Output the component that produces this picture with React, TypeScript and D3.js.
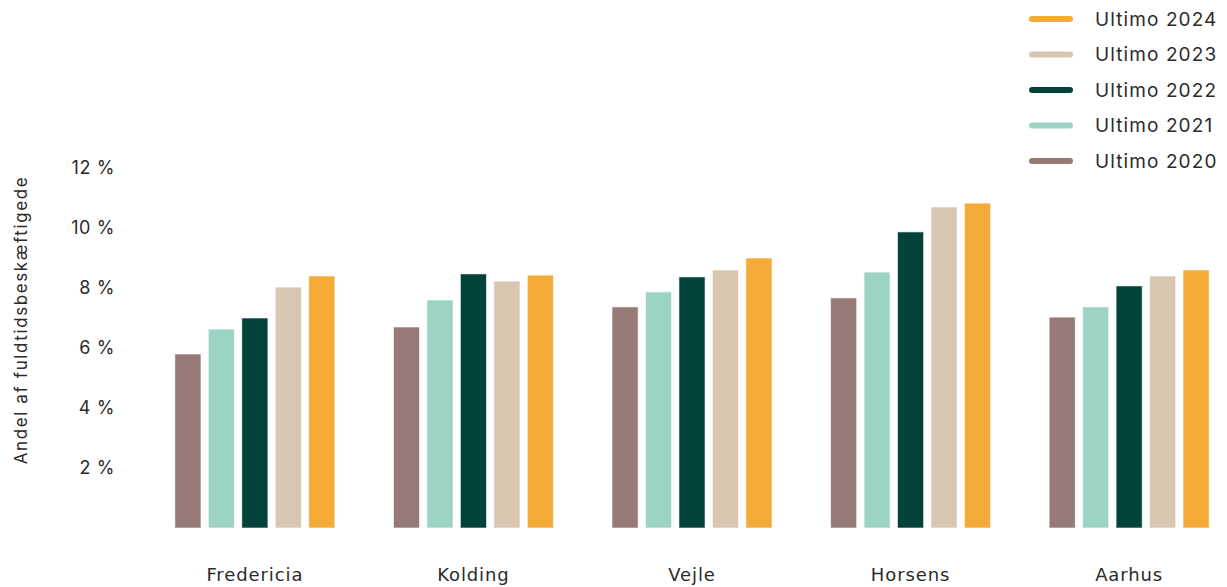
import { useEffect, useRef } from "react";
import * as d3 from "d3";

const cities = ["Fredericia", "Kolding", "Vejle", "Horsens", "Aarhus"];
const years = ["Ultimo 2020", "Ultimo 2021", "Ultimo 2022", "Ultimo 2023", "Ultimo 2024"];
const yearColors = ["#957a76", "#9dd3c4", "#02423a", "#d9c6b1", "#f4aa36"];

// one array per year, in city order
const v2020 = [5.8, 6.7, 7.37, 7.67, 7.03];
const v2021 = [6.63, 7.6, 7.87, 8.53, 7.37];
const v2022 = [7.0, 8.47, 8.37, 9.87, 8.07];
const v2023 = [8.03, 8.23, 8.6, 10.7, 8.4];
const v2024 = [8.4, 8.43, 9.0, 10.83, 8.6];
const series = [v2020, v2021, v2022, v2023, v2024];

const yTicks = [2, 4, 6, 8, 10, 12];

const W = 1227;
const H = 587;

export default function App() {
  const svgRef = useRef<SVGSVGElement>(null);

  useEffect(() => {
    if (!svgRef.current) return;
    const svg = d3.select(svgRef.current);
    svg.selectAll("*").remove();

    const font = "Inter, 'Noto Sans', sans-serif";
    const textColor = "#2b2b2b";

    const y = d3.scaleLinear().domain([0, 12]).range([528, 168]);

    const x0 = d3
      .scaleBand<string>()
      .domain(cities)
      .range([153, 1231])
      .paddingInner(0.268)
      .paddingOuter(0.1);

    const x1 = d3
      .scaleBand<string>()
      .domain(years)
      .range([0, x0.bandwidth()])
      .paddingInner(0.22);

    // bars
    const groups = svg
      .append("g")
      .selectAll("g")
      .data(cities)
      .join("g")
      .attr("transform", (c) => `translate(${x0(c)},0)`);

    groups
      .selectAll("rect")
      .data((c, ci) => years.map((yr, i) => ({ yr, i, v: series[i][ci] })))
      .join("rect")
      .attr("x", (d) => x1(d.yr)!)
      .attr("width", x1.bandwidth())
      .attr("y", (d) => y(d.v))
      .attr("height", (d) => y(0) - y(d.v))
      .attr("fill", (d) => yearColors[d.i])
      .attr("stroke", "#ffffff")
      .attr("stroke-opacity", 0.6)
      .attr("stroke-width", 1);

    // y tick labels
    svg
      .append("g")
      .selectAll("text")
      .data(yTicks)
      .join("text")
      .attr("x", 115)
      .attr("y", (d) => y(d))
      .attr("dy", "0.35em")
      .attr("text-anchor", "end")
      .attr("font-family", font)
      .attr("font-size", 18)
      .attr("letter-spacing", 0.6)
      .attr("fill", textColor)
      .text((d) => `${d} %`);

    // y axis title
    svg
      .append("text")
      .attr("transform", `translate(27,320) rotate(-90)`)
      .attr("text-anchor", "middle")
      .attr("font-family", font)
      .attr("font-size", 17)
      .attr("letter-spacing", 1.6)
      .attr("fill", textColor)
      .text("Andel af fuldtidsbeskæftigede");

    // x labels
    svg
      .append("g")
      .selectAll("text")
      .data(cities)
      .join("text")
      .attr("x", (c) => x0(c)! + x0.bandwidth() / 2)
      .attr("y", 581)
      .attr("text-anchor", "middle")
      .attr("font-family", "'DejaVu Sans', sans-serif")
      .attr("font-size", 18)
      .attr("letter-spacing", 0.9)
      .attr("fill", textColor)
      .text((c) => c);

    // legend, newest first
    const legendYears = years.map((yr, i) => ({ yr, i })).reverse();
    const leg = svg
      .append("g")
      .selectAll("g")
      .data(legendYears)
      .join("g")
      .attr("transform", (_, k) => `translate(0,${19 + k * 35.5})`);

    leg
      .append("line")
      .attr("x1", 1032)
      .attr("x2", 1070)
      .attr("stroke", (d) => yearColors[d.i])
      .attr("stroke-width", 6)
      .attr("stroke-linecap", "round");

    leg
      .append("text")
      .attr("x", 1095)
      .attr("dy", "0.35em")
      .attr("font-family", font)
      .attr("font-size", 19)
      .attr("letter-spacing", 1.1)
      .attr("fill", textColor)
      .text((d) => d.yr);
  }, []);

  return (
    <svg
      ref={svgRef}
      width={W}
      height={H}
      style={{ position: "absolute", left: 0, top: 0, background: "#fff" }}
    />
  );
}
